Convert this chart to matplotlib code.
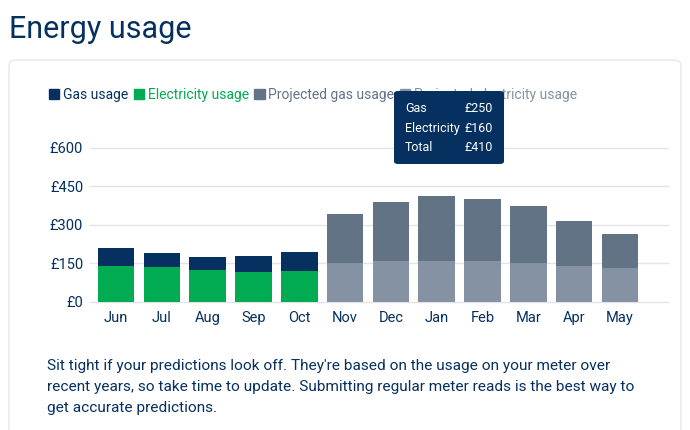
import matplotlib.pyplot as plt
from matplotlib.patches import Patch, FancyBboxPatch

# data
actual_months = ['Jun', 'Jul', 'Aug', 'Sep', 'Oct']
actual_elec = [140, 135, 125, 115, 120]
actual_gas = [70, 56, 50, 65, 72]

proj_months = ['Nov', 'Dec', 'Jan', 'Feb', 'Mar', 'Apr', 'May']
proj_elec = [150, 158, 160, 157, 150, 138, 132]
proj_gas = [190, 229, 250, 244, 222, 178, 132]

y_ticks = [0, 150, 300, 450, 600]
tip_rows = [('Gas', '£250'), ('Electricity', '£160'), ('Total', '£410')]

NAVY = '#05305f'
GREEN = '#00ab52'
GREY_DARK = '#637386'
GREY_LIGHT = '#8592a3'
GRID = '#e1e4e8'

plt.rcParams['font.family'] = ['Roboto', 'DejaVu Sans']

W, H = 690, 430
fig = plt.figure(figsize=(W / 100, H / 100), dpi=100)
fig.patch.set_facecolor('white')


def fx(x):
    return x / W


def fy(y):
    return 1 - y / H


# card behind the chart
card = FancyBboxPatch((fx(9), fy(445)), fx(672), 385 / H,
                      boxstyle='round,pad=0,rounding_size=0.012',
                      transform=fig.transFigure, facecolor='white',
                      edgecolor='#e6e8eb', linewidth=1, zorder=-5)
fig.patches.append(card)

fig.text(fx(9), fy(30), 'Energy usage', fontsize=22, color=NAVY,
         va='center', ha='left')

ax = fig.add_axes([fx(90), fy(301.7), fx(668 - 90), (301.7 - 147.7) / H])
ax.set_facecolor('none')
ax.set_zorder(1)

w = 0.8
ax.bar(actual_months, actual_elec, width=w, color=GREEN, zorder=3)
ax.bar(actual_months, actual_gas, bottom=actual_elec, width=w, color=NAVY, zorder=3)
ax.bar(proj_months, proj_elec, width=w, color=GREY_LIGHT, zorder=3)
ax.bar(proj_months, proj_gas, bottom=proj_elec, width=w, color=GREY_DARK, zorder=3)

ax.set_xlim(-0.57, 12.05)
ax.set_ylim(0, 600)
ax.set_yticks(y_ticks)
ax.set_yticklabels(['£' + str(v) for v in y_ticks])
ax.grid(axis='y', color=GRID, linewidth=1, zorder=0)
for gl in ax.get_ygridlines():
    gl.set_clip_on(False)
ax.tick_params(length=0, labelcolor=NAVY, labelsize=10.5)
ax.tick_params(axis='y', pad=5)
ax.tick_params(axis='x', pad=7)
for s in ax.spines.values():
    s.set_visible(False)

# legend
handles = [Patch(color=NAVY), Patch(color=GREEN), Patch(color=GREY_DARK), Patch(color=GREY_LIGHT)]
labels = ['Gas usage', 'Electricity usage', 'Projected gas usage', 'Projected electricity usage']
leg = fig.legend(handles, labels, loc='center left', bbox_to_anchor=(fx(49), fy(95)),
                 ncol=4, frameon=False, fontsize=10, handlelength=0.75, handleheight=0.75,
                 handletextpad=0.25, columnspacing=0.4, borderpad=0, borderaxespad=0)
leg.set_zorder(2)
for t, c in zip(leg.get_texts(), [NAVY, GREEN, GREY_DARK, GREY_LIGHT]):
    t.set_color(c)

# tooltip
tip = FancyBboxPatch((fx(394), fy(164)), fx(110), 73 / H,
                     boxstyle='round,pad=0,rounding_size=0.006',
                     transform=fig.transFigure, facecolor=NAVY,
                     edgecolor='none', zorder=10)
fig.patches.append(tip)
for i, (name, val) in enumerate(tip_rows):
    yy = fy(109 + i * 19.4)
    fig.text(fx(405), yy, name, color='white', fontsize=9, va='center', ha='left', zorder=11)
    fig.text(fx(493), yy, val, color='white', fontsize=9, va='center', ha='right', zorder=11)

# note below the chart
lines = [
    "Sit tight if your predictions look off. They're based on the usage on your meter over",
    "recent years, so take time to update. Submitting regular meter reads is the best way to",
    "get accurate predictions.",
]
for i, line in enumerate(lines):
    fig.text(fx(47), fy(366 + i * 21), line, color=NAVY, fontsize=11.1, va='center', ha='left')

fig.savefig('out.png', dpi=100)
